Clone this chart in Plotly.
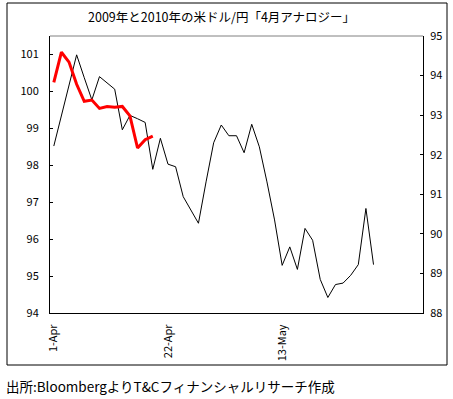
import plotly.graph_objects as go

# ---------------- data ----------------
trading_days = [
    "1-Apr", "2-Apr", "3-Apr", "6-Apr", "7-Apr", "8-Apr", "9-Apr", "10-Apr",
    "13-Apr", "14-Apr", "15-Apr", "16-Apr", "17-Apr", "20-Apr", "21-Apr",
    "22-Apr", "23-Apr", "24-Apr", "27-Apr", "28-Apr", "29-Apr", "30-Apr",
    "1-May", "4-May", "5-May", "6-May", "7-May", "8-May", "11-May", "12-May",
    "13-May", "14-May", "15-May", "18-May", "19-May", "20-May", "21-May",
    "22-May", "25-May", "26-May", "27-May", "28-May", "29-May",
]
usdjpy_2009 = [
    98.52, 99.34, 100.18, 100.99, 100.37, 99.77, 100.40, 100.23, 100.06,
    98.96, 99.35, 99.26, 99.16, 97.89, 98.73, 98.03, 97.96, 97.15, 96.79,
    96.43, 97.55, 98.61, 99.09, 98.80, 98.80, 98.34, 99.11, 98.50, 97.55,
    96.52, 95.29, 95.79, 95.18, 96.29, 95.97, 94.91, 94.42, 94.77, 94.81,
    95.02, 95.31, 96.83, 95.31,
]
usdjpy_2010 = [
    93.83, 94.59, 94.34, 93.78, 93.35, 93.38, 93.17, 93.22, 93.20, 93.22,
    92.98, 92.17, 92.38, 92.47,
]
left_ticks = [94, 95, 96, 97, 98, 99, 100, 101]
right_ticks = [88, 89, 90, 91, 92, 93, 94, 95]
x_tick_labels = ["1-Apr", "22-Apr", "13-May"]

title_text = "2009年と2010年の米ドル/円「4月アナロジー」"
source_text = "出所:BloombergよりT&Cフィナンシャルリサーチ作成"

# ---------------- layout constants ----------------
W, H = 453, 399
ML, MR, MT, MB = 50, 30, 36, 86
PW, PH = W - ML - MR, H - MT - MB
N_SLOTS = 49
FONT = "Noto Sans CJK JP"


def px_x(p):
    return (p - ML) / PW


def px_y(p):
    return (H - MB - p) / PH


fig = go.Figure()
fig.add_trace(go.Scatter(
    x=trading_days, y=usdjpy_2009, mode="lines",
    line=dict(color="black", width=1), yaxis="y", name="2009",
))
fig.add_trace(go.Scatter(
    x=trading_days[:len(usdjpy_2010)], y=usdjpy_2010, mode="lines",
    line=dict(color="#ff0000", width=3), yaxis="y2", name="2010",
))

axis_font = dict(family=FONT, size=11, color="black")

fig.update_layout(
    width=W, height=H,
    margin=dict(l=ML, r=MR, t=MT, b=MB),
    paper_bgcolor="white", plot_bgcolor="white",
    showlegend=False,
    font=dict(family=FONT, color="black"),
    xaxis=dict(
        type="category", categoryorder="array", categoryarray=trading_days,
        range=[-0.5, N_SLOTS - 0.5],
        tickmode="array", tickvals=x_tick_labels, ticktext=x_tick_labels,
        tickangle=-90, ticks="", showline=True, linecolor="black", linewidth=1,
        showgrid=False, zeroline=False, tickfont=axis_font,
        ticklabelstandoff=6,
    ),
    yaxis=dict(
        range=[94, 101.5], tickmode="array", tickvals=left_ticks,
        ticks="inside", ticklen=3, tickcolor="black", tickwidth=1,
        showline=True, linecolor="black", linewidth=1,
        showgrid=False, zeroline=False, tickfont=axis_font,
        ticklabelstandoff=8,
    ),
    yaxis2=dict(
        range=[88, 95], tickmode="array", tickvals=right_ticks,
        overlaying="y", side="right",
        ticks="inside", ticklen=3, tickcolor="black", tickwidth=1,
        showline=True, linecolor="black", linewidth=1,
        showgrid=False, zeroline=False, tickfont=axis_font,
        ticklabelstandoff=4,
    ),
    shapes=[
        # grey top border of plot area
        dict(type="line", xref="paper", yref="paper", x0=0, x1=1, y0=1, y1=1,
             line=dict(color="#808080", width=1)),
        # outer chart border
        dict(type="rect", xref="paper", yref="paper",
             x0=px_x(7), x1=px_x(447), y0=px_y(365), y1=px_y(3),
             line=dict(color="black", width=1), fillcolor="rgba(0,0,0,0)"),
    ],
    annotations=[
        dict(text=title_text, xref="paper", yref="paper",
             x=px_x(221), y=px_y(17), xanchor="center", yanchor="middle",
             showarrow=False, font=dict(family=FONT, size=12.5, color="black")),
        dict(text=source_text, xref="paper", yref="paper",
             x=px_x(4), y=px_y(386), xanchor="left", yanchor="middle",
             showarrow=False, font=dict(family=FONT, size=13.5, color="black")),
    ],
)

fig.write_html(
    "out.html",
    config={"displayModeBar": False},
    post_script="document.body.style.margin='0';document.body.style.overflow='hidden';",
)
